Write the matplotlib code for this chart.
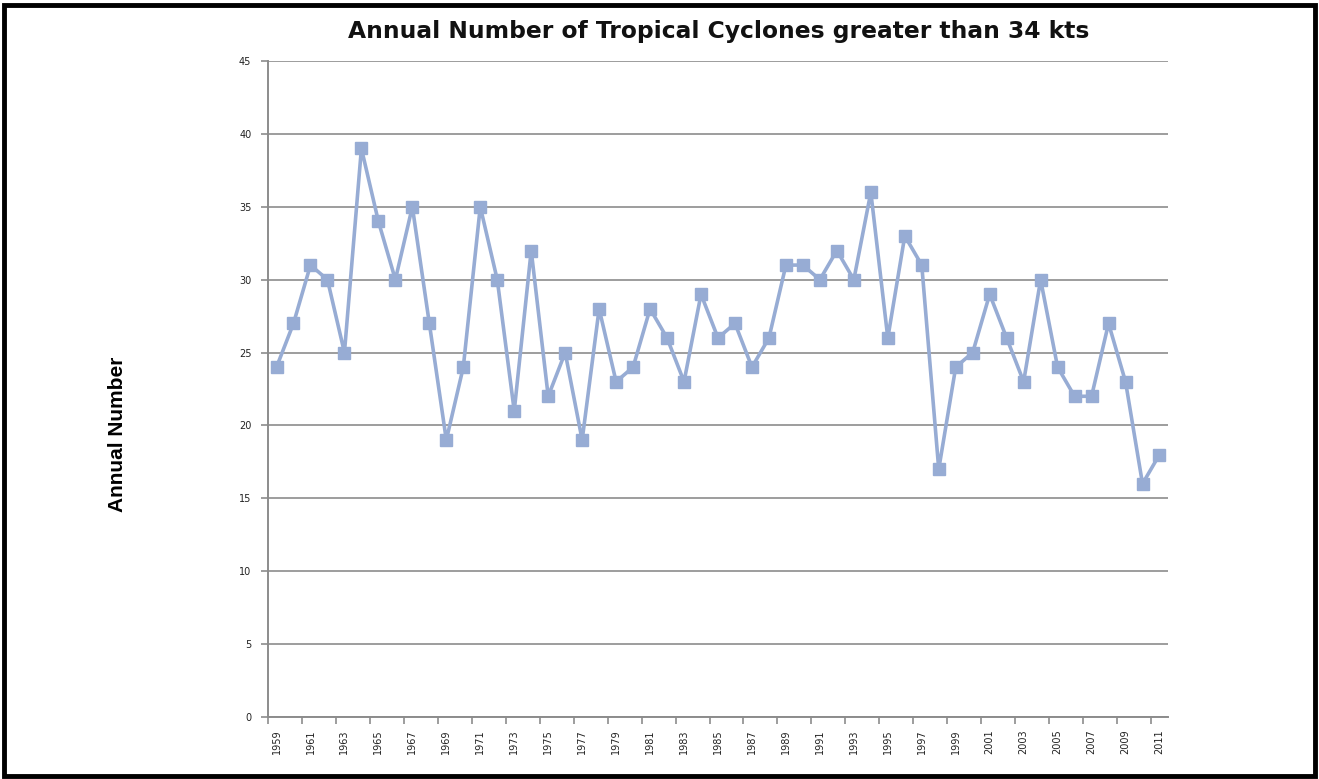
import matplotlib
matplotlib.use("Agg")
import matplotlib.pyplot as plt
from matplotlib.patches import Rectangle
from matplotlib.ticker import FixedLocator, NullFormatter, FixedFormatter

# Annual counts of tropical cyclones exceeding 34 kts
years = list(range(1959, 2012))
counts = [24, 27, 31, 30, 25, 39, 34, 30, 35, 27,
          19, 24, 35, 30, 21, 32, 22, 25, 19, 28,
          23, 24, 28, 26, 23, 29, 26, 27, 24, 26,
          31, 31, 30, 32, 30, 36, 26, 33, 31, 17,
          24, 25, 29, 26, 23, 30, 24, 22, 22, 27,
          23, 16, 18]
y_ticks = [0, 5, 10, 15, 20, 25, 30, 35, 40, 45]

title = "Annual Number of Tropical Cyclones greater than 34 kts"
y_label = "Annual Number"

line_color = "#97ACD4"
grid_color = "#8C8C8C"

fig = plt.figure(figsize=(13.19, 7.79), dpi=100)
ax = fig.add_axes([0.2032, 0.0796, 0.6823, 0.8421])

positions = list(range(len(years)))
ax.plot(positions, counts, color=line_color, lw=2.6, marker="s",
        markersize=8, markerfacecolor=line_color, markeredgecolor=line_color,
        solid_joinstyle="round", zorder=3)

ax.set_xlim(-0.5, len(years) - 0.5)
ax.set_ylim(0, 45)

# Y axis
ax.set_yticks(y_ticks)
ax.yaxis.grid(True, color=grid_color, lw=1.2)
ax.set_axisbelow(True)
ax.tick_params(axis="y", direction="out", length=5, width=1.2, color=grid_color,
               pad=7, labelsize=7, labelcolor="#222222")

# X axis: tick marks between categories, labels at every other year
major = [i - 0.5 for i in range(0, len(years), 2)]
label_pos = [i for i in range(0, len(years), 2)]
ax.xaxis.set_major_locator(FixedLocator(major))
ax.xaxis.set_major_formatter(NullFormatter())
ax.xaxis.set_minor_locator(FixedLocator(label_pos))
ax.xaxis.set_minor_formatter(FixedFormatter([str(years[i]) for i in label_pos]))
ax.tick_params(axis="x", which="major", direction="out", length=5, width=1.2,
               color=grid_color)
ax.tick_params(axis="x", which="minor", length=0, pad=9, labelsize=7,
               labelrotation=90, labelcolor="#222222")

for side in ("top", "right"):
    ax.spines[side].set_visible(False)
for side in ("left", "bottom"):
    ax.spines[side].set_color(grid_color)
    ax.spines[side].set_linewidth(1.4)

fig.text(0.5445, 0.960, title, ha="center", va="center", fontsize=16.8,
         fontweight="bold", family="DejaVu Sans", color="#111111")
fig.text(0.089, 0.442, y_label, ha="center", va="center", rotation=90,
         fontsize=15, fontweight="bold", family="Liberation Sans",
         color="#000000")

# Outer frame
fig.patches.append(Rectangle((0.003, 0.004), 0.994, 0.99, transform=fig.transFigure,
                             fill=False, edgecolor="black", lw=3.5))

fig.savefig("out.png", dpi=100)
